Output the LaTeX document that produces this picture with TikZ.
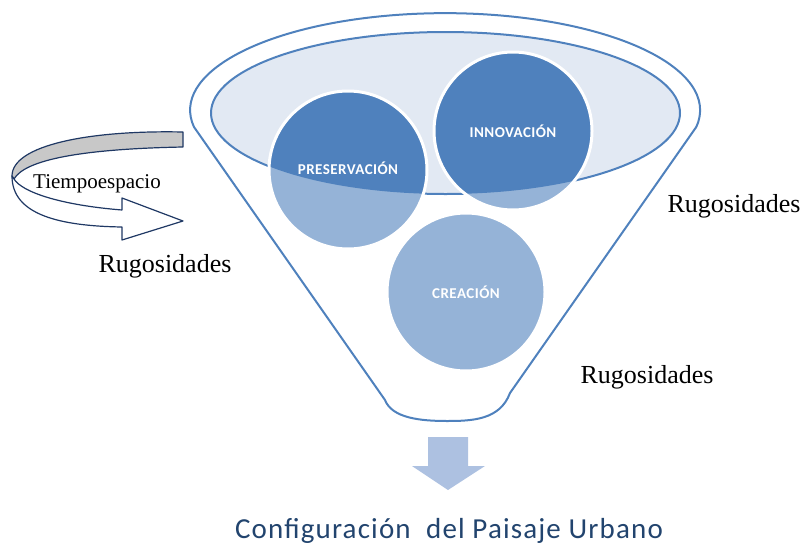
\documentclass[tikz,border=0pt]{standalone}
\usepackage{fontspec}
\setmainfont{Liberation Serif}
\newfontfamily\calibri{Carlito}[LetterSpace=4]
\newfontfamily\calibrisp{Carlito}[LetterSpace=3]
\usetikzlibrary{
  calc,
  positioning,
}
\definecolor{funnelblue}{HTML}{4F81BD}
\definecolor{lightblue}{HTML}{95B3D7}
\definecolor{paleblue}{HTML}{E2E9F3}
\definecolor{arrowblue}{HTML}{ADC1E1}
\definecolor{ribbonnavy}{HTML}{1F3864}
\definecolor{titleblue}{HTML}{22446E}
\definecolor{ribbongray}{HTML}{C8C8C8}
\tikzset{
  funnelline/.style={draw=funnelblue,line width=2pt,line join=round},
  bubble/.style={circle,fill=lightblue,minimum size=158pt,inner sep=0pt},
  bubbletext/.style={text=white,font=\calibrisp\bfseries\fontsize{15}{17}\selectfont},
  ribbon/.style={draw=ribbonnavy,line width=1.2pt,line join=round},
  rough/.style={font=\fontsize{26}{29}\selectfont,anchor=base},
}

\begin{document}
\begin{tikzpicture}[x=1pt,y=-1pt]

        \useasboundingbox (0,0) rectangle (803,549);

        % funnel
        \draw[funnelline] (385,400) -- (194,127)
          arc[start angle=170,end angle=370,x radius=255,y radius=97]
          -- (510,393) .. controls (500,420) and (472,421) .. (447,421)
          .. controls (420,421) and (392,418) .. (385,400) -- cycle;
        \filldraw[funnelline,fill=paleblue] (445.5,113) ellipse[x radius=234.5,y radius=81];

        % bubbles
        \node[bubble] (pres) at (348,170) {};
        \node[bubble] (inno) at (513,131) {};
        \node[bubble] (crea) at (466,292) {};
        \begin{scope}
          \clip (445.5,113) ellipse[x radius=234.5,y radius=81];
          \fill[funnelblue] (pres) circle[radius=79];
          \fill[funnelblue] (inno) circle[radius=79];
        \end{scope}
        \foreach \b in {pres,inno,crea}
          \draw[white,line width=3pt] (\b) circle[radius=79];
        \node[bubbletext] (prestext) at (348,168) {PRESERVACIÓN};
        \node[bubbletext] (innotext) at (513,131) {INNOVACIÓN};
        \node[bubbletext] (creatext) at (466,292) {CREACIÓN};

        % output arrow
        \fill[arrowblue] (428,437) -- (468,437) -- (468,466) -- (485,466)
          -- (448,490) -- (412,466) -- (428,466) -- cycle;
        \node[font=\calibri\fontsize{29}{32}\selectfont,text=titleblue,anchor=base] (config) at (449,538) {Configuración~ del Paisaje Urbano};

        % tiempoespacio ribbon
        \filldraw[ribbon,fill=ribbongray] (183,132) .. controls (90,130) and (12,145) .. (12,176)
          -- (14,179) .. controls (25,160) and (80,149) .. (183,147) -- cycle;
        \filldraw[ribbon,fill=white] (12,176) .. controls (12,215) and (60,226) .. (122,227)
          -- (122,240) -- (183,221) -- (122,198) -- (122,210)
          .. controls (60,205) and (22,192) .. (14,179) -- cycle;
        \node[font=\fontsize{21}{24}\selectfont,anchor=base] (tiempo) at (97,188) {Tiempoespacio};

        \node[rough] (rugleft) at (165,272) {Rugosidades};
        \node[rough] (rugright) at (734,212) {Rugosidades};
        \node[rough] (rugbottom) at (647,383) {Rugosidades};

      \end{tikzpicture}
\end{document}
